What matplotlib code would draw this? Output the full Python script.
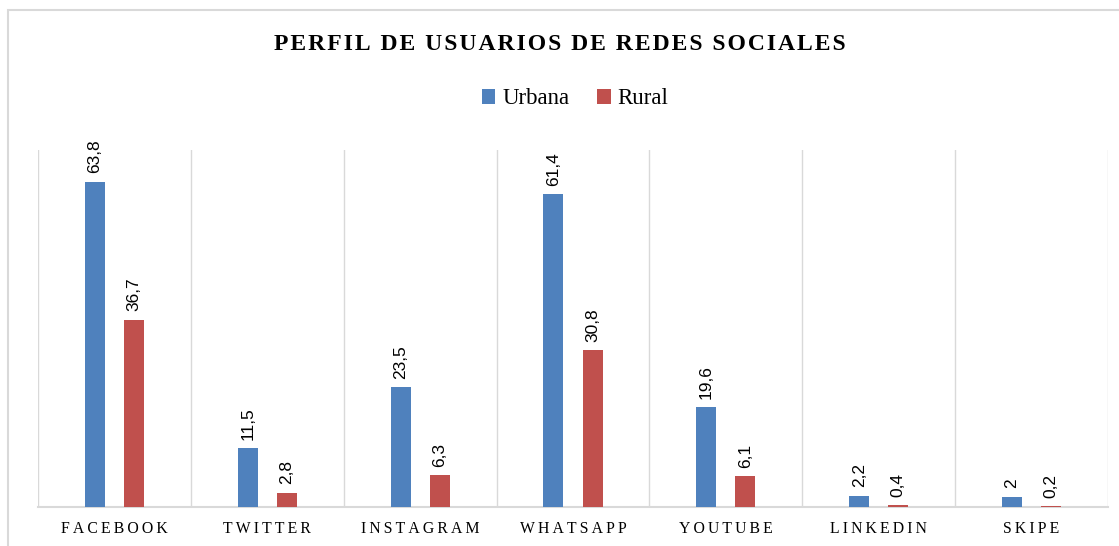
import matplotlib.pyplot as plt
import numpy as np
from matplotlib.patches import Rectangle

categories = ['FACEBOOK', 'TWITTER', 'INSTAGRAM', 'WHATSAPP', 'YOUTUBE', 'LINKEDIN', 'SKIPE']
urbana = [63.8, 11.5, 23.5, 61.4, 19.6, 2.2, 2.0]
rural = [36.7, 2.8, 6.3, 30.8, 6.1, 0.4, 0.2]

blue = '#4F81BD'
red = '#C0504D'
grid = '#D9D9D9'
serif = ['Liberation Serif', 'DejaVu Serif']


def spaced(s, sep='\u2009'):
    return sep.join(s)


def fmt(v):
    return ('%g' % v).replace('.', ',')


fig = plt.figure(figsize=(11.19, 5.46), dpi=100)
fig.patches.append(Rectangle((8 / 1119, -0.1), 1.2, 1.1 - 10 / 546, transform=fig.transFigure,
                             fill=False, edgecolor=grid, linewidth=1.5))

ax = fig.add_axes([38 / 1119, 39 / 546, 1070 / 1119, 357 / 546])
x = np.arange(len(categories))
w = 0.13
off = 0.128
b1 = ax.bar(x - off, urbana, w, color=blue, label='Urbana', zorder=3)
b2 = ax.bar(x + off, rural, w, color=red, label='Rural', zorder=3)

for bars, vals in ((b1, urbana), (b2, rural)):
    for rect, v in zip(bars, vals):
        ax.annotate(fmt(v), (rect.get_x() + rect.get_width() / 2, rect.get_height()),
                    xytext=(0, 6), textcoords='offset points', rotation=90,
                    ha='center', va='bottom', fontsize=12.5,
                    family=['Liberation Sans', 'DejaVu Sans'])

ax.set_xlim(-0.5, len(categories) - 0.5)
ax.set_ylim(0, 70)
for b in np.arange(-0.5, len(categories), 1.0):
    ax.axvline(b, color=grid, linewidth=1, zorder=1)
for s in ('top', 'left', 'right'):
    ax.spines[s].set_visible(False)
ax.spines['bottom'].set_color(grid)
ax.spines['bottom'].set_linewidth(1.5)
ax.set_yticks([])
ax.set_xticks(x)
ax.set_xticklabels([spaced(c, '\u2009') for c in categories], family=serif, fontsize=11.3)
ax.tick_params(axis='x', length=0, pad=10)

fig.text(0.5, 1 - 45 / 546, spaced('PERFIL DE USUARIOS DE REDES SOCIALES', '\u200a'),
         ha='center', va='center', fontsize=17, fontweight='bold', family=serif)
fig.legend(handles=[b1, b2], loc='center', bbox_to_anchor=(575 / 1119, 1 - 99 / 546),
           ncol=2, frameon=False, prop={'family': serif, 'size': 16.5},
           handlelength=0.6, handleheight=0.6, handletextpad=0.3, columnspacing=1.2)

fig.savefig('out.png', dpi=100)
